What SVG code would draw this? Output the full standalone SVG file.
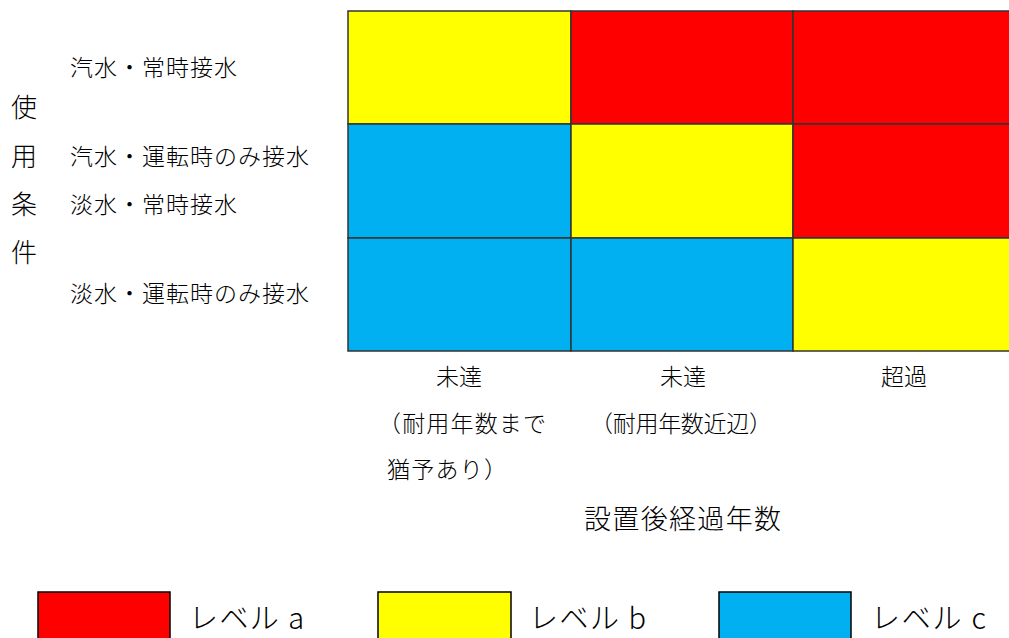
<svg xmlns="http://www.w3.org/2000/svg" width="1009" height="638" viewBox="0 0 1009 638">
<style>
.t{font-family:"Noto Sans CJK JP","Noto Sans CJK SC",sans-serif;font-weight:300;fill:#000}
.s{font-size:23px}
.m{font-size:26px}
.l{font-size:27px}
.g{font-size:29px}
.c{stroke:#333;stroke-width:1.5}
.r{fill:#ff0000}
.y{fill:#ffff00}
.b{fill:#00b0f0}
</style>
<rect width="1009" height="638" fill="#fff"/>
<g id="grid">
<rect class="c y" x="348" y="11" width="223" height="113"/>
<rect class="c r" x="571" y="11" width="222" height="113"/>
<rect class="c r" x="793" y="11" width="230" height="113"/>
<rect class="c b" x="348" y="124" width="223" height="114"/>
<rect class="c y" x="571" y="124" width="222" height="114"/>
<rect class="c r" x="793" y="124" width="230" height="114"/>
<rect class="c b" x="348" y="238" width="223" height="113"/>
<rect class="c b" x="571" y="238" width="222" height="113"/>
<rect class="c y" x="793" y="238" width="230" height="113"/>
</g>
<g id="rowlabels" class="t s">
<text x="70" y="76" textLength="167" lengthAdjust="spacing">汽水・常時接水</text>
<text x="70" y="165" textLength="239" lengthAdjust="spacing">汽水・運転時のみ接水</text>
<text x="70" y="213" textLength="167" lengthAdjust="spacing">淡水・常時接水</text>
<text x="70" y="302" textLength="239" lengthAdjust="spacing">淡水・運転時のみ接水</text>
</g>
<g id="axisY" class="t m">
<text x="11" y="117">使</text>
<text x="11" y="166">用</text>
<text x="11" y="214">条</text>
<text x="11" y="262">件</text>
</g>
<g id="colLabels" class="t s" text-anchor="middle">
<text x="459" y="385">未達</text>
<text x="683" y="385">未達</text>
<text x="904" y="385">超過</text>
</g>
<g id="colNotes" class="t s">
<text x="378" y="432" textLength="168" lengthAdjust="spacing">（耐用年数まで</text>
<text x="387" y="478" textLength="120" lengthAdjust="spacing">猶予あり）</text>
<text x="590" y="432" textLength="182" lengthAdjust="spacing">（耐用年数近辺）</text>
</g>
<g id="axisX" class="t l">
<text x="584" y="529" textLength="197" lengthAdjust="spacing">設置後経過年数</text>
</g>
<g id="legend">
<rect class="r" x="38" y="592" width="132" height="50" stroke="#000" stroke-width="1.5"/>
<text class="t g" x="189" y="629" textLength="115" lengthAdjust="spacing">レベル a</text>
<rect class="y" x="378" y="592" width="133" height="50" stroke="#000" stroke-width="1.5"/>
<text class="t g" x="529" y="629" textLength="117" lengthAdjust="spacing">レベル b</text>
<rect class="b" x="719" y="592" width="132" height="50" stroke="#000" stroke-width="1.5"/>
<text class="t g" x="871" y="629" textLength="115" lengthAdjust="spacing">レベル c</text>
</g>
</svg>
